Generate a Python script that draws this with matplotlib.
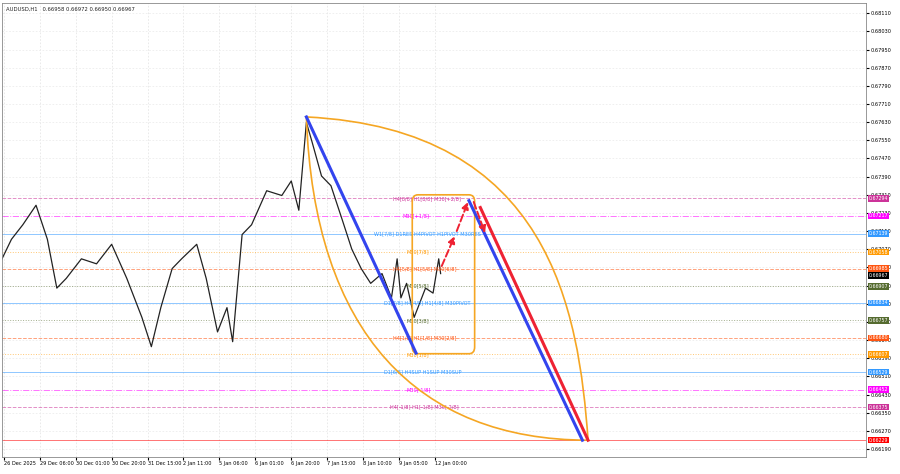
import matplotlib
matplotlib.use("Agg")
import matplotlib.pyplot as plt
from matplotlib.patches import FancyBboxPatch, PathPatch
from matplotlib.path import Path

# price path keyframes (bar index, price)
bars = [0, 5, 11, 18, 24, 29, 34, 42, 50, 58, 66, 74, 79, 84, 90, 95, 103, 108, 114, 119, 122, 127, 132, 140, 148, 153, 157, 161, 164, 169, 174, 180, 185, 190, 195, 201, 206, 209, 211, 214, 218, 222, 224, 228, 231, 232]
closes = [0.67028, 0.67114, 0.67178, 0.67264, 0.67114, 0.66899, 0.66942, 0.67028, 0.67006, 0.67092, 0.66942,
          0.66770, 0.66641, 0.66813, 0.66985, 0.67028, 0.67092, 0.66942, 0.66706, 0.66813, 0.66663, 0.67135,
          0.67178, 0.67328, 0.67307, 0.67371, 0.67242, 0.67629, 0.67543, 0.67393, 0.67350, 0.67199, 0.67071,
          0.66985, 0.66920, 0.66963, 0.66856, 0.67028, 0.66856, 0.66920, 0.66770, 0.66856, 0.66899, 0.66877,
          0.67028, 0.66963]

tick_pos = [1, 20, 39, 58, 77, 96, 115, 134, 153, 172, 191, 210, 229]
tick_labels = ["26 Dec 2025", "29 Dec 06:00", "30 Dec 01:00", "30 Dec 20:00", "31 Dec 15:00", "2 Jan 11:00",
               "5 Jan 06:00", "6 Jan 01:00", "6 Jan 20:00", "7 Jan 15:00", "8 Jan 10:00", "9 Jan 05:00", "12 Jan 00:00"]
grid_prices = [0.68110, 0.68030, 0.67950, 0.67870, 0.67790, 0.67710, 0.67630, 0.67550, 0.67470, 0.67390,
               0.67310, 0.67230, 0.67150, 0.67070, 0.66990, 0.66910, 0.66830, 0.66750, 0.66670, 0.66590,
               0.66510, 0.66430, 0.66350, 0.66270, 0.66190]

level_prices = [0.67294, 0.67217, 0.67139, 0.67058, 0.66985, 0.66907, 0.66834, 0.66757, 0.66680, 0.66607, 0.66529, 0.66452, 0.66375, 0.66229]
level_colors = ["#cc3399", "#ff00ff", "#3399ff", "#ff9900", "#ff5511", "#556b2f", "#3399ff", "#556b2f", "#ff5511", "#ff9900", "#3399ff", "#ff00ff", "#cc3399", "#ff0000"]
level_styles = ["--", "-.", "-", ":", "--", ":", "-", ":", "--", ":", "-", "-.", "--", "-"]
level_texts = ["H4[8/8] H1[8/8] M30[+2/8]", "M30[+1/8]", "W1[7/8] D1RES H4PIVOT H1PIVOT M30RES", "M30[7/8]",
               "H4[5/8] H1[5/8] M30[6/8]", "M30[5/8]", "D1[7/8] H4[4/8] H1[4/8] M30PIVOT", "M30[3/8]",
               "H4[1/8] H1[1/8] M30[2/8]", "M30[1/8]", "D1[6/8] H4SUP H1SUP M30SUP", "M30[-1/8]",
               "H4[-1/8] H1[-1/8] M30[-2/8]", ""]
level_text_x = [207, 212, 197, 214, 207, 214, 202, 214, 207, 214, 202, 214, 205, 0]

W, H = 900, 474
fig = plt.figure(figsize=(W / 100, H / 100), dpi=100)
ax = fig.add_axes([2 / W, 17 / H, 864 / W, 454 / H])
x_max = 457
y_lo, y_hi = 0.66155, 0.68155
ax.set_xlim(0, x_max)
ax.set_ylim(y_lo, y_hi)

for t in tick_pos:
    ax.axvline(t, color="#e6e6e6", lw=0.6, ls=(0, (2, 2)), zorder=0)
for p in grid_prices:
    ax.axhline(p, color="#ececec", lw=0.6, ls=(0, (2, 2)), zorder=0)

for p, c, s in zip(level_prices, level_colors, level_styles):
    ax.axhline(p, color=c, lw=0.7, ls=s, alpha=0.55, zorder=1)
for p, c, t, x in zip(level_prices, level_colors, level_texts, level_text_x):
    if t:
        ax.text(x, p, t, fontsize=3.6, color=c, ha="left", va="center", zorder=3)

ax.plot(bars, closes, color="#222222", lw=0.9, zorder=2)

# projection geometry
top = (161, 0.67653)
bot = (219, 0.66613)
peak = (248, 0.67294)
end = (310, 0.66229)
ax.plot([top[0], bot[0]], [top[1], bot[1]], color="#3344ee", lw=2.2, zorder=4)
ax.plot([peak[0] - 1, end[0] - 3], [peak[1] - 0.0001, end[1]], color="#3344ee", lw=2.2, zorder=4)
ax.plot([peak[0] + 5, end[0]], [peak[1] - 0.0004, end[1]], color="#ee2233", lw=2.2, zorder=4)
ax.annotate("", xy=(240, 0.67139), xytext=(232, 0.66985),
            arrowprops=dict(arrowstyle="-|>", color="#ee2233", lw=1.4, ls="--"), zorder=5)
ax.annotate("", xy=(247, 0.67290), xytext=(240, 0.67139),
            arrowprops=dict(arrowstyle="-|>", color="#ee2233", lw=1.4, ls="--"), zorder=5)
ax.annotate("", xy=(256, 0.67130), xytext=(249, 0.67290),
            arrowprops=dict(arrowstyle="-|>", color="#ee2233", lw=1.4, ls="--"), zorder=5)

orange = "#f5a623"
arc1 = Path([top, (290, 0.67600), (305, 0.66800), end], [Path.MOVETO, Path.CURVE4, Path.CURVE4, Path.CURVE4])
arc2 = Path([top, (165, 0.66700), (220, 0.66230), end], [Path.MOVETO, Path.CURVE4, Path.CURVE4, Path.CURVE4])
ax.add_patch(PathPatch(arc1, fill=False, ec=orange, lw=1.2, zorder=3))
ax.add_patch(PathPatch(arc2, fill=False, ec=orange, lw=1.2, zorder=3))
ax.add_patch(FancyBboxPatch((217, 0.66610), 33, 0.00700, boxstyle="round,pad=0,rounding_size=3",
                            mutation_aspect=0.0001, fill=False, ec=orange, lw=1.2, zorder=3))

ax.set_xticks(tick_pos)
ax.set_xticklabels(tick_labels, fontsize=3.6, ha="left")
ax.tick_params(axis="x", length=2, pad=1)
ax.yaxis.tick_right()
ax.set_yticks(grid_prices)
ax.set_yticklabels([f"{p:.5f}" for p in grid_prices], fontsize=3.6)
ax.tick_params(axis="y", length=2, pad=1)
for sp in ax.spines.values():
    sp.set_color("#888888")
    sp.set_linewidth(0.6)

for p, c in zip(level_prices, level_colors):
    ax.text(1.003, (p - y_lo) / (y_hi - y_lo), f"{p:.5f}", transform=ax.transAxes, fontsize=3.4,
            color="white", va="center", ha="left",
            bbox=dict(boxstyle="square,pad=0.15", fc=c, ec="none"), zorder=6)
ax.text(1.003, (0.66967 - y_lo) / (y_hi - y_lo) - 0.006, "0.66967", transform=ax.transAxes, fontsize=3.4,
        color="white", va="center", ha="left", bbox=dict(boxstyle="square,pad=0.15", fc="black", ec="none"))

ax.text(2, 0.68120, "AUDUSD,H1   0.66958 0.66972 0.66950 0.66967", fontsize=3.8, color="#222222")
fig.savefig("out.png", dpi=100, facecolor="white")
